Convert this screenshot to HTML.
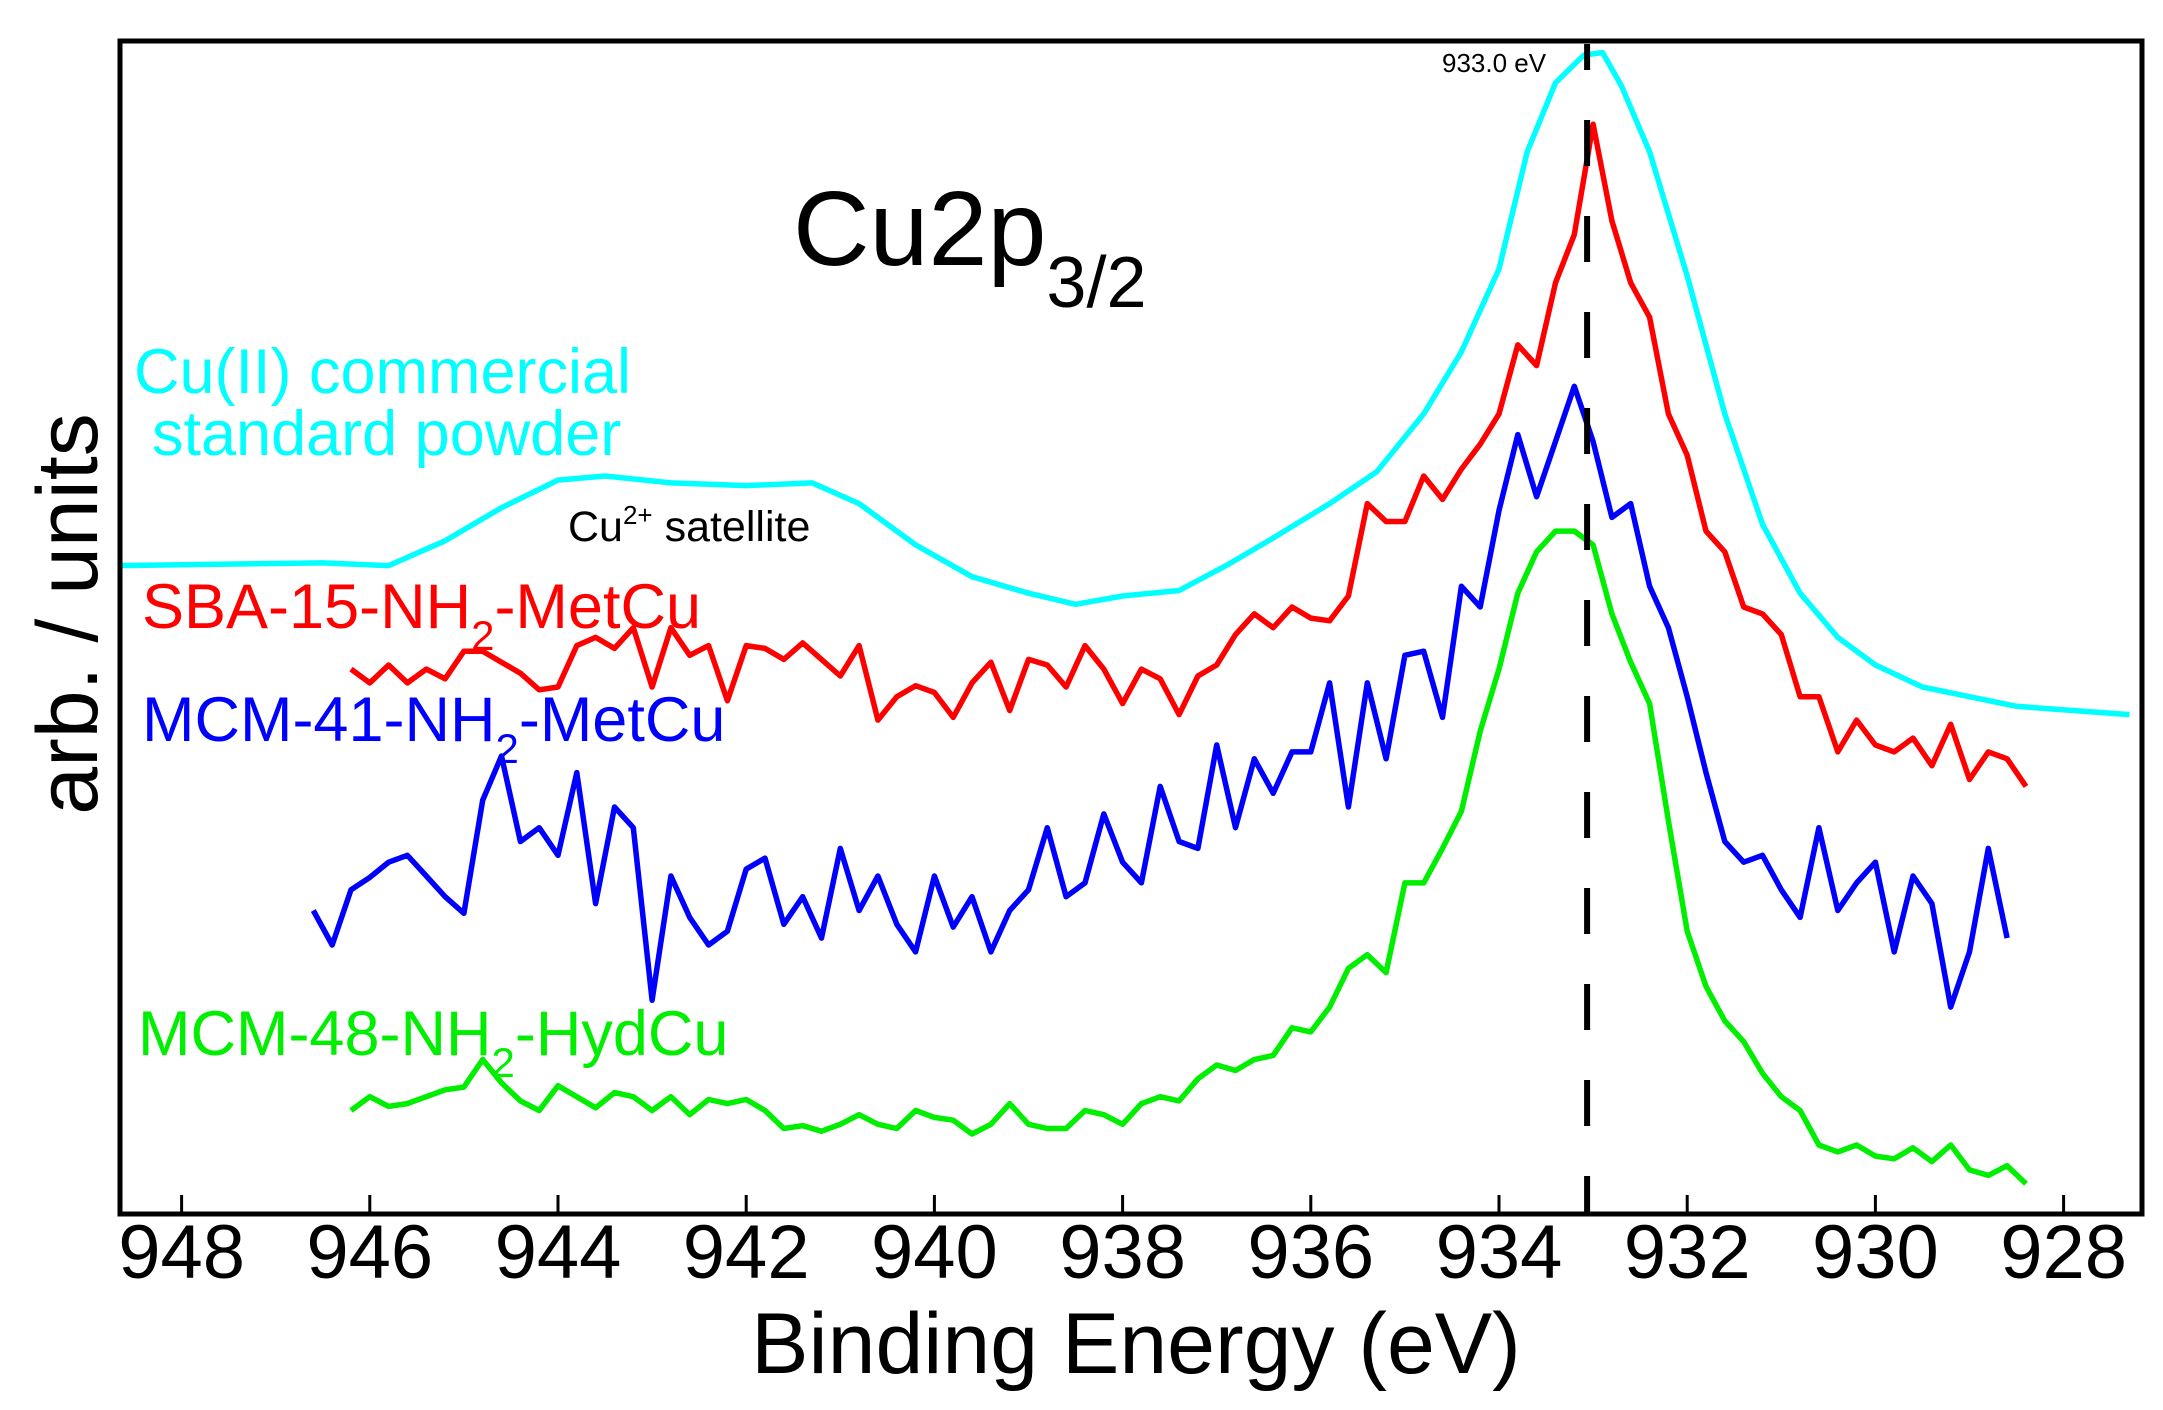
<!DOCTYPE html>
<html><head><meta charset="utf-8"><style>
html,body{margin:0;padding:0;background:#fff;}
svg{display:block;font-family:"Liberation Sans",Arial,sans-serif;}
</style></head><body>
<svg id="chart" width="2163" height="1410" viewBox="0 0 2163 1410" xmlns="http://www.w3.org/2000/svg">
<defs><clipPath id="plotclip"><rect x="120" y="41" width="2022" height="1173"/></clipPath></defs>
<g id="series" clip-path="url(#plotclip)"></g>
<g id="axes"></g>
<rect x="120" y="41" width="2022" height="1173" fill="none" stroke="#000" stroke-width="5"/>
<text x="1136" y="1373" font-size="86" text-anchor="middle">Binding Energy (eV)</text>
<text transform="translate(97,614) rotate(-90)" font-size="86" text-anchor="middle">arb. / units</text>
<text x="793" y="265" font-size="106">Cu2p<tspan font-size="72" dy="42">3/2</tspan></text>
<text x="1442" y="72" font-size="26">933.0 eV</text>
<text x="568" y="541" font-size="43">Cu<tspan font-size="26" dy="-17">2+</tspan><tspan dy="17"> satellite</tspan></text>
<text x="134" y="393" font-size="63" fill="#00ffff">Cu(II) commercial</text>
<text x="152" y="455" font-size="63" fill="#00ffff">standard powder</text>
<text x="142" y="628" font-size="63" fill="#ff0000">SBA-15-NH<tspan font-size="42" dy="22">2</tspan><tspan dy="-22">-MetCu</tspan></text>
<text x="142" y="741" font-size="63" fill="#0000ff">MCM-41-NH<tspan font-size="42" dy="22">2</tspan><tspan dy="-22">-MetCu</tspan></text>
<text x="138" y="1055" font-size="63" fill="#00ee00">MCM-48-NH<tspan font-size="42" dy="22">2</tspan><tspan dy="-22">-HydCu</tspan></text>
</svg>
<script>
const xTicks = [948,946,944,942,940,938,936,934,932,930,928];
const refEnergy = 933.0;
const energies = [946.6,946.4,946.2,946.0,945.8,945.6,945.4,945.2,945.0,944.8,944.6,944.4,944.2,944.0,943.8,943.6,943.4,943.2,943.0,942.8,942.6,942.4,942.2,942.0,941.8,941.6,941.4,941.2,941.0,940.8,940.6,940.4,940.2,940.0,939.8,939.6,939.4,939.2,939.0,938.8,938.6,938.4,938.2,938.0,937.8,937.6,937.4,937.2,937.0,936.8,936.6,936.4,936.2,936.0,935.8,935.6,935.4,935.2,935.0,934.8,934.6,934.4,934.2,934.0,933.8,933.6,933.4,933.2,933.0,932.8,932.6,932.4,932.2,932.0,931.8,931.6,931.4,931.2,931.0,930.8,930.6,930.4,930.2,930.0,929.8,929.6,929.4,929.2,929.0,928.8,928.6,928.4,928.2];
const cyanEnergies = [948.7,946.5,945.8,945.2,944.6,944.0,943.5,942.8,942.0,941.3,940.8,940.2,939.6,939.0,938.5,938.0,937.4,936.9,936.4,935.8,935.3,934.8,934.4,934.0,933.7,933.4,933.1,932.9,932.7,932.4,932.0,931.6,931.2,930.8,930.4,930.0,929.5,929.0,928.5,927.9,927.3];
const cyanValues = [470,472,470,488,512,532,535,530,528,530,515,485,462,450,442,448,452,470,490,515,538,580,625,685,770,820,840,842,818,770,680,580,500,450,418,398,382,375,368,365,362];
const redValues = [null,null,395,385,398,385,395,388,408,408,400,392,380,382,412,418,410,425,382,425,405,412,372,412,410,402,414,402,390,412,358,375,383,378,360,385,400,365,402,398,382,412,395,370,395,388,362,390,398,420,435,425,440,432,430,448,515,502,502,535,518,540,558,580,630,615,675,710,790,720,675,650,580,550,495,480,440,435,420,375,375,335,358,340,335,345,325,355,315,335,330,310,null];
const blueValues = [220,195,235,244,255,260,245,230,218,300,332,270,280,260,320,225,295,280,155,245,215,195,205,250,258,210,230,200,265,220,245,210,190,245,208,230,190,220,235,280,230,240,290,255,240,310,270,265,340,280,330,305,335,335,385,295,385,330,405,408,360,455,440,510,565,520,560,600,560,505,515,455,425,375,320,270,255,260,235,215,280,220,240,255,190,245,225,150,190,265,200,null,null];
const greenValues = [null,null,75,85,78,80,85,90,92,112,95,82,75,93,85,77,88,85,75,85,72,83,80,83,75,62,64,60,65,72,65,62,75,70,68,58,65,80,65,62,62,75,72,65,80,85,82,98,108,104,112,115,135,132,150,178,188,175,240,240,265,292,350,395,450,480,495,495,485,435,400,370,285,205,165,140,125,102,85,75,50,45,50,42,40,48,38,50,32,28,35,22,null];

const NS = "http://www.w3.org/2000/svg";
function xScale(e){ return 181.6 + (948 - e) * 94.1; }
function yScale(v){ return 1214 - v * 1.3795; }
const seriesG = document.getElementById('series');
const axesG = document.getElementById('axes');

function drawLine(xs, vs, color, name){
  let d = '';
  let started = false;
  for (let i = 0; i < xs.length; i++){
    if (vs[i] === null || vs[i] === undefined) { started = false; continue; }
    d += (started ? 'L' : 'M') + xScale(xs[i]).toFixed(1) + ',' + yScale(vs[i]).toFixed(1);
    started = true;
  }
  const p = document.createElementNS(NS, 'path');
  p.setAttribute('d', d);
  p.setAttribute('fill', 'none');
  p.setAttribute('stroke', color);
  p.setAttribute('stroke-width', '5.5');
  p.setAttribute('stroke-linejoin', 'round');
  
  
  seriesG.appendChild(p);
}
drawLine(cyanEnergies, cyanValues, '#00ffff', 'cu-standard-line');
drawLine(energies, redValues, '#ff0000', 'sba15-line');
drawLine(energies, blueValues, '#0000ff', 'mcm41-line');
drawLine(energies, greenValues, '#00ee00', 'mcm48-line');

const ref = document.createElementNS(NS, 'line');
ref.setAttribute('x1', xScale(refEnergy) - 6); ref.setAttribute('x2', xScale(refEnergy) - 6);
ref.setAttribute('y1', 44); ref.setAttribute('y2', 1214);
ref.setAttribute('stroke', '#000'); ref.setAttribute('stroke-width', '6');
ref.setAttribute('stroke-dasharray', '46 50');
ref.setAttribute('stroke-dashoffset', '20');


seriesG.appendChild(ref);

xTicks.forEach(t => {
  const x = xScale(t);
  const tk = document.createElementNS(NS, 'line');
  tk.setAttribute('x1', x); tk.setAttribute('x2', x);
  tk.setAttribute('y1', 1214); tk.setAttribute('y2', 1195);
  tk.setAttribute('stroke', '#000'); tk.setAttribute('stroke-width', '3');
  
  
  axesG.appendChild(tk);
  const lb = document.createElementNS(NS, 'text');
  lb.setAttribute('x', x); lb.setAttribute('y', 1278);
  lb.setAttribute('font-size', '76');
  lb.setAttribute('text-anchor', 'middle');
  lb.textContent = t;
  
  
  axesG.appendChild(lb);
});
</script>
</body></html>
